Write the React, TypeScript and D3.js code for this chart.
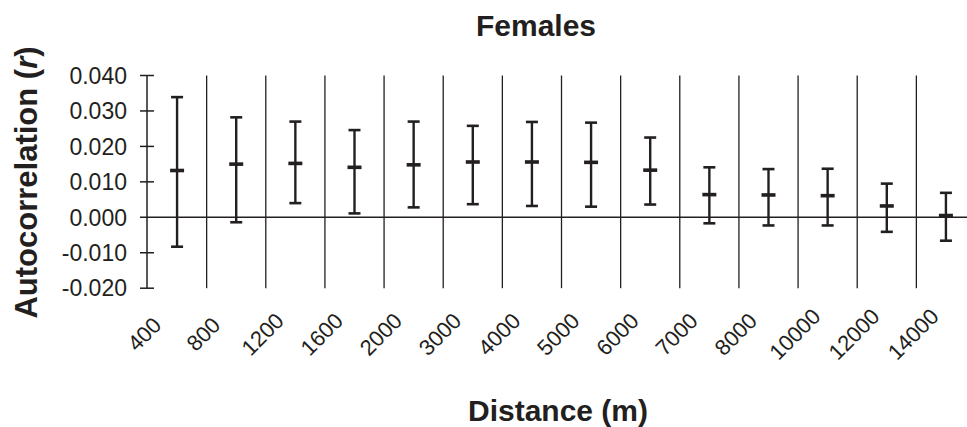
import * as d3 from 'd3';

const DISTANCES = ['400', '800', '1200', '1600', '2000', '3000', '4000', '5000', '6000', '7000', '8000', '10000', '12000', '14000'];
const MEAN_R = [0.0132, 0.0150, 0.0152, 0.0141, 0.0148, 0.0156, 0.0156, 0.0155, 0.0133, 0.0064, 0.0063, 0.0061, 0.0032, 0.0005];
const UPPER_R = [0.0339, 0.0282, 0.0270, 0.0246, 0.0270, 0.0258, 0.0269, 0.0267, 0.0225, 0.0141, 0.0136, 0.0137, 0.0095, 0.0069];
const LOWER_R = [-0.0083, -0.0014, 0.0040, 0.0011, 0.0028, 0.0037, 0.0032, 0.0030, 0.0036, -0.0017, -0.0023, -0.0023, -0.0041, -0.0066];
const Y_TICKS = [0.04, 0.03, 0.02, 0.01, 0, -0.01, -0.02];

const W = 967;
const H = 427;
const INK = '#231f20';
const FONT = '"Liberation Sans", Arial, Helvetica, sans-serif';

export default function App() {
  const x = d3.scaleBand<string>().domain(DISTANCES).range([147.5, 975.5]).padding(0);
  const y = d3.scaleLinear().domain([-0.02, 0.04]).range([288.2, 75.5]);
  const axisX = 147;
  const bw = x.bandwidth();

  return (
    <div style={{ position: 'absolute', left: 0, top: 0, background: 'white' }}>
      <svg width={W} height={H} style={{ fontFamily: FONT, display: 'block' }}>
        {/* title */}
        <text x={536} y={36} textAnchor="middle" fontSize={30} fontWeight={700} fill={INK}>
          Females
        </text>

        {/* dividers between distance classes */}
        {DISTANCES.slice(1).map(d => (
          <line key={d} x1={x(d)} x2={x(d)} y1={y(0.04)} y2={y(-0.02)} stroke={INK} strokeWidth={1.3} />
        ))}

        {/* y axis */}
        <line x1={axisX} x2={axisX} y1={y(0.04)} y2={y(-0.02)} stroke={INK} strokeWidth={1.5} />
        {Y_TICKS.map(t => (
          <g key={t}>
            <line x1={axisX - 7} x2={t === 0 ? W : axisX + 7} y1={y(t)} y2={y(t)} stroke={INK} strokeWidth={1.5} />
            <text x={127} y={y(t)} dy="0.36em" textAnchor="end" fontSize={23} fill={INK}>
              {d3.format('.3f')(t).replace('−', '-')}
            </text>
          </g>
        ))}

        {/* error bars */}
        {DISTANCES.map((d, i) => {
          const cx = (x(d) ?? 0) + bw / 2;
          return (
            <g key={d} stroke={INK}>
              <line x1={cx} x2={cx} y1={y(UPPER_R[i])} y2={y(LOWER_R[i])} strokeWidth={2.4} />
              <line x1={cx - 6} x2={cx + 6} y1={y(UPPER_R[i])} y2={y(UPPER_R[i])} strokeWidth={2.6} />
              <line x1={cx - 6} x2={cx + 6} y1={y(LOWER_R[i])} y2={y(LOWER_R[i])} strokeWidth={2.6} />
              <line x1={cx - 7} x2={cx + 7} y1={y(MEAN_R[i])} y2={y(MEAN_R[i])} strokeWidth={3.6} />
            </g>
          );
        })}

        {/* x tick labels */}
        {DISTANCES.map(d => {
          const ax = (x(d) ?? 0) + bw / 2 - 33;
          const ay = 334;
          return (
            <text key={d} x={ax} y={ay} dy="0.36em" textAnchor="middle" fontSize={22} fill={INK}
              transform={`rotate(-45,${ax},${ay})`}>
              {d}
            </text>
          );
        })}

        {/* axis titles */}
        <text x={558} y={421} textAnchor="middle" fontSize={30} fontWeight={700} fill={INK}>
          Distance (m)
        </text>
        <text transform="translate(37,182.5) rotate(-90)" textAnchor="middle" fontSize={31} fontWeight={700} fill={INK}>
          Autocorrelation (<tspan fontStyle="italic">r</tspan>)
        </text>
      </svg>
    </div>
  );
}
